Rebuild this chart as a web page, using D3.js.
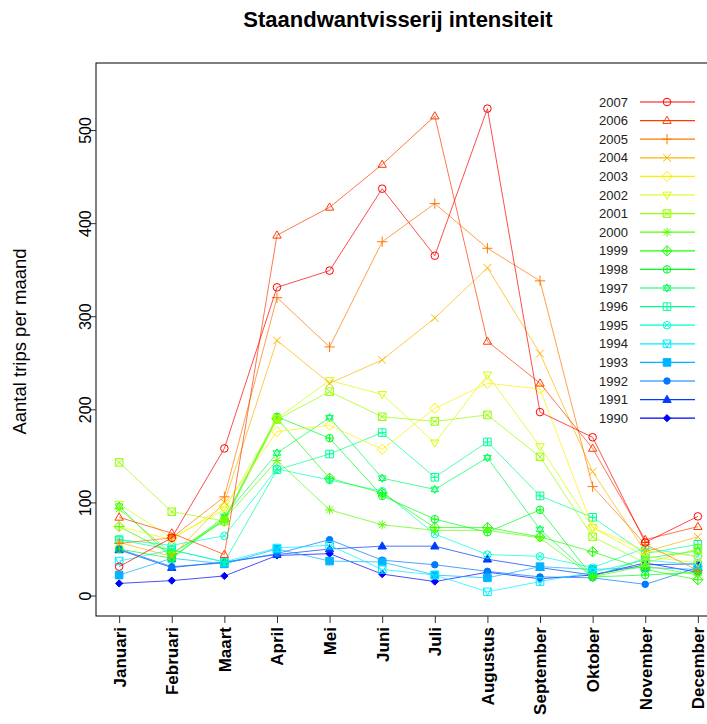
<!DOCTYPE html>
<html>
<head>
<meta charset="utf-8">
<script src="https://cdn.jsdelivr.net/npm/d3@7"></script>
<style>
  html, body { margin: 0; padding: 0; background: #fff; }
  svg { display: block; }
  text { font-family: "Liberation Sans", Arial, Helvetica, sans-serif; }
</style>
</head>
<body>
<svg id="chart" width="707" height="724"></svg>
<script>
const months = ["Januari","Februari","Maart","April","Mei","Juni","Juli","Augustus","September","Oktober","November","December"];
const years = ["2007","2006","2005","2004","2003","2002","2001","2000","1999","1998","1997","1996","1995","1994","1993","1992","1991","1990"];
const yTicks = [0, 100, 200, 300, 400, 500];

const s2007 = [31, 62, 158, 331, 349, 437, 365, 523, 197, 170, 57, 85];
const s2006 = [84, 67, 44, 387, 417, 463, 515, 273, 228, 158, 60, 74];
const s2005 = [56, 62, 106, 320, 267, 380, 421, 373, 338, 117, 55, 27];
const s2004 = [57, 42, 100, 274, 228, 253, 298, 352, 260, 133, 47, 63];
const s2003 = [74, 60, 96, 176, 183, 157, 201, 228, 222, 73, 48, 42];
const s2002 = [98, 62, 92, 190, 231, 216, 164, 237, 160, 73, 42, 35];
const s2001 = [143, 90, 80, 189, 219, 192, 187, 194, 149, 63, 35, 50];
const s2000 = [93, 45, 82, 145, 92, 76, 70, 70, 62, 20, 32, 22];
const s1999 = [74, 45, 80, 190, 126, 110, 73, 73, 63, 47, 28, 17];
const s1998 = [50, 40, 82, 192, 169, 107, 82, 68, 92, 20, 22, 25];
const s1997 = [96, 40, 85, 153, 191, 126, 114, 148, 71, 20, 40, 48];
const s1996 = [60, 49, 36, 135, 152, 175, 127, 165, 107, 84, 45, 55];
const s1995 = [60, 54, 64, 136, 124, 112, 66, 44, 42, 30, 51, 42];
const s1994 = [37, 49, 36, 51, 54, 28, 22, 4, 15, 25, 38, 33];
const s1993 = [22, 40, 34, 50, 37, 36, 22, 19, 31, 28, 30, 28];
const s1992 = [50, 31, 35, 45, 60, 38, 33, 26, 20, 19, 12, 30];
const s1991 = [49, 30, 36, 44, 50, 53, 53, 39, 30, 22, 33, 34];
const s1990 = [13, 16, 21, 43, 45, 23, 15, 25, 18, 22, 35, 25];

const seriesValues = [s2007, s2006, s2005, s2004, s2003, s2002, s2001, s2000, s1999,
                      s1998, s1997, s1996, s1995, s1994, s1993, s1992, s1991, s1990];

const svg = d3.select("#chart");
const L = 96, T = 63, R = 721, B = 616;

const x = d3.scaleLinear().domain([0.56, 12.44]).range([L, R]);
const y = d3.scaleLinear().domain([-22, 572]).range([B, T]);
const color = i => d3.hsl(240 * i / (years.length - 1), 1, 0.5).toString();

// symbols (R pch 1..18)
function sym(g, pch, cx, cy, col) {
  const s = 3.8;
  const p = g.append("g").attr("transform", `translate(${cx},${cy})`)
    .attr("fill", "none").attr("stroke", col).attr("stroke-width", 1);
  const circle = r => p.append("circle").attr("r", r);
  const path = d => p.append("path").attr("d", d);
  const tri = `M0,${-s*1.15}L${s*1.1},${s*0.75}L${-s*1.1},${s*0.75}Z`;
  const triD = `M0,${s*1.15}L${s*1.1},${-s*0.75}L${-s*1.1},${-s*0.75}Z`;
  const sq = `M${-s},${-s}H${s}V${s}H${-s}Z`;
  const plus = r => `M${-r},0H${r}M0,${-r}V${r}`;
  const cross = r => `M${-r},${-r}L${r},${r}M${-r},${r}L${r},${-r}`;
  const dia = r => `M0,${-r}L${r},0L0,${r}L${-r},0Z`;
  switch (pch) {
    case 1: circle(s); break;
    case 2: path(tri); break;
    case 3: path(plus(s*1.35)); break;
    case 4: path(cross(s)); break;
    case 5: path(dia(s*1.35)); break;
    case 6: path(triD); break;
    case 7: path(sq); path(cross(s)); break;
    case 8: path(plus(s*1.2)); path(cross(s*0.9)); break;
    case 9: path(dia(s*1.35)); path(plus(s*1.35)); break;
    case 10: circle(s); path(plus(s)); break;
    case 11: path(`M0,${-s*1.1}L${s},${s*0.6}L${-s},${s*0.6}Z`); path(`M0,${s*1.1}L${s},${-s*0.6}L${-s},${-s*0.6}Z`); break;
    case 12: path(sq); path(plus(s)); break;
    case 13: circle(s); path(cross(s*0.72)); break;
    case 14: path(sq); path(`M${-s},${-s}L0,${s}L${s},${-s}`); break;
    case 15: path(sq).attr("fill", col); break;
    case 16: circle(s*0.85).attr("fill", col); break;
    case 17: path(tri).attr("fill", col); break;
    case 18: path(dia(s*0.95)).attr("fill", col); break;
  }
}

// clip
svg.append("defs").append("clipPath").attr("id", "clip")
  .append("rect").attr("x", L).attr("y", T).attr("width", R - L).attr("height", B - T);

const plot = svg.append("g").attr("clip-path", "url(#clip)");
const line = d3.line().x((d, i) => x(i + 1)).y(d => y(d));

// draw from oldest to newest so red is on top
for (let i = seriesValues.length - 1; i >= 0; i--) {
  const col = color(i);
  plot.append("path").datum(seriesValues[i]).attr("d", line)
    .attr("fill", "none").attr("stroke", col).attr("stroke-width", 1).attr("stroke-opacity", 0.7);
  seriesValues[i].forEach((v, j) => sym(plot, i + 1, x(j + 1), y(v), col));
}

// box
svg.append("rect").attr("x", L).attr("y", T).attr("width", R - L).attr("height", B - T)
  .attr("fill", "none").attr("stroke", "#000").attr("stroke-width", 1);

// y axis
const yAxis = svg.append("g").attr("transform", `translate(${L},0)`)
  .call(d3.axisLeft(y).tickValues(yTicks).tickSize(7).tickSizeOuter(0).tickPadding(0));
yAxis.select(".domain").remove();
yAxis.selectAll(".tick line").attr("stroke", "#333");
yAxis.selectAll(".tick text")
  .attr("font-size", 16).attr("fill", "#000")
  .attr("transform", "translate(-11,0) rotate(-90)")
  .attr("x", 0).attr("dy", "0.35em").attr("text-anchor", "middle");

// x axis
const xAxis = svg.append("g").attr("transform", `translate(0,${B})`)
  .call(d3.axisBottom(x).tickValues(d3.range(1, 13)).tickFormat(d => months[d - 1]).tickSize(7).tickSizeOuter(0));
xAxis.select(".domain").remove();
xAxis.selectAll(".tick line").attr("stroke", "#333");
xAxis.selectAll(".tick text")
  .attr("font-size", 17).attr("font-weight", "bold").attr("fill", "#000")
  .attr("text-anchor", "end").attr("transform", "rotate(-90)")
  .attr("x", -11).attr("y", 0).attr("dy", "0.35em");

// title
svg.append("text").attr("x", 398).attr("y", 27).attr("text-anchor", "middle")
  .attr("font-size", 22).attr("font-weight", "bold").text("Staandwantvisserij intensiteit");

// y label
svg.append("text").attr("transform", `translate(26,${(T + B) / 2 + 2}) rotate(-90)`)
  .attr("text-anchor", "middle").attr("font-size", 18.5).text("Aantal trips per maand");

// legend
const lg = svg.append("g");
years.forEach((yr, i) => {
  const yy = 102 + i * 18.6;
  const col = color(i);
  lg.append("text").attr("x", 628).attr("y", yy).attr("dy", "0.35em").attr("text-anchor", "end")
    .attr("font-size", 13).attr("fill", "#222").text(yr);
  lg.append("line").attr("x1", 640).attr("x2", 695).attr("y1", yy).attr("y2", yy)
    .attr("stroke", col).attr("stroke-width", 1.2);
  sym(lg, i + 1, 667, yy, col);
});
</script>
</body>
</html>
